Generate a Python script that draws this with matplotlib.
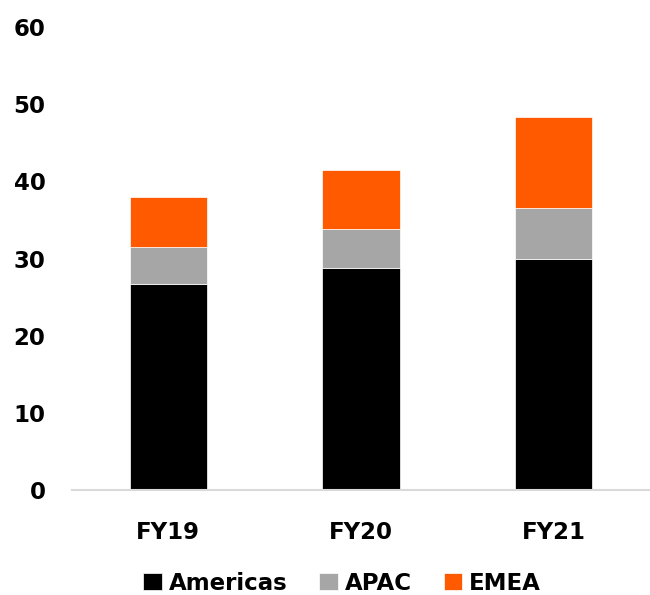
import matplotlib.pyplot as plt
import numpy as np

years = ['FY19', 'FY20', 'FY21']
americas = [26.7, 28.8, 29.9]
apac = [4.8, 5.0, 6.6]
emea = [6.5, 7.7, 11.8]

plt.rcParams['font.family'] = ['DejaVu Sans']
plt.rcParams['font.weight'] = 'bold'

fig = plt.figure(figsize=(6.5, 5.95), dpi=100)
ax = fig.add_axes([72/650, 1 - 490/595, 578/650, 463/595])

x = np.arange(len(years))
w = 0.4
b1 = np.array(americas)
b2 = b1 + np.array(apac)
ax.bar(x, americas, w, color='#000000', label='Americas', edgecolor='white', linewidth=0.5)
ax.bar(x, apac, w, bottom=b1, color='#a6a6a6', label='APAC', edgecolor='white', linewidth=0.5)
ax.bar(x, emea, w, bottom=b2, color='#ff5a00', label='EMEA', edgecolor='white', linewidth=0.5)

ax.set_xlim(-0.5, 2.5)
ax.set_ylim(0, 60)
ax.set_yticks(range(0, 61, 10))
ax.set_xticks(x)
ax.set_xticklabels(years)
for s in ['top', 'right', 'left']:
    ax.spines[s].set_visible(False)
ax.spines['bottom'].set_color('#d9d9d9')
ax.spines['bottom'].set_linewidth(1.5)
ax.tick_params(axis='y', length=0, pad=19, labelsize=16.5)
ax.tick_params(axis='x', length=0, pad=22, labelsize=16.5)

fig.legend(loc='center', bbox_to_anchor=(342/650, 1 - 583/595), ncol=3, frameon=False,
           fontsize=16.5, handlelength=0.8, handleheight=0.8, handletextpad=0.3,
           columnspacing=1.4, borderaxespad=0)

fig.savefig('out.png', dpi=100)
